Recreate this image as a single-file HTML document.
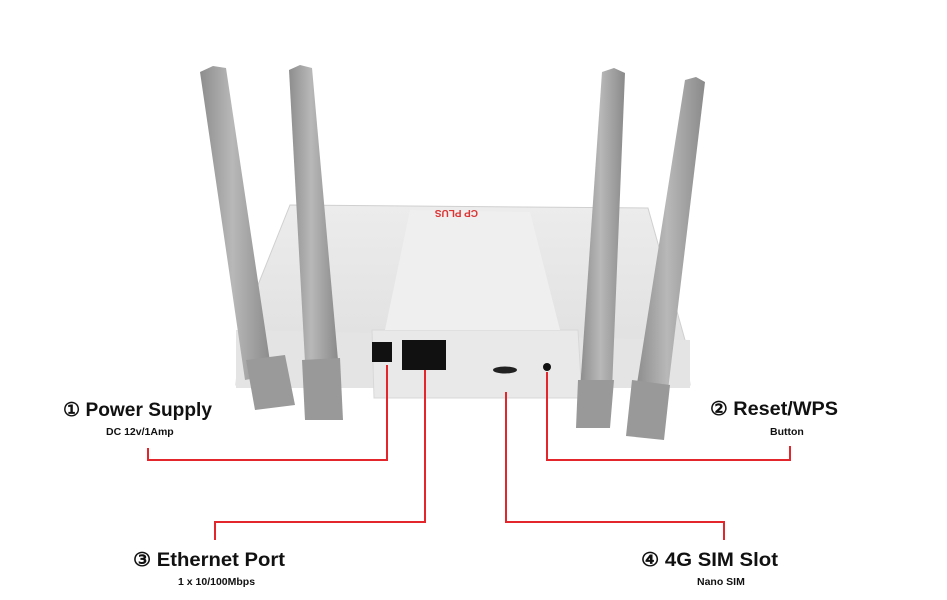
<!DOCTYPE html>
<html><head><meta charset="utf-8"><style>
html,body{margin:0;padding:0;background:#fff;}
svg{display:block}
text{font-family:"Liberation Sans",sans-serif;font-weight:bold;fill:#111}
</style></head><body>
<svg width="947" height="600" viewBox="0 0 947 600">
<defs>
<linearGradient id="ant" x1="0" x2="1"><stop offset="0" stop-color="#8d8d8d"/><stop offset="0.45" stop-color="#b8b8b8"/><stop offset="1" stop-color="#8a8a8a"/></linearGradient>
<linearGradient id="top" x1="0" y1="0" x2="0" y2="1"><stop offset="0" stop-color="#ececec"/><stop offset="1" stop-color="#dedede"/></linearGradient>
</defs>
<polygon points="290,205 648,208 685,340 690,385 236,385 240,330" fill="url(#top)" stroke="#d0d0d0"/>
<polygon points="236,330 690,340 690,388 236,388" fill="#e4e4e4"/>
<polygon points="372,330 578,330 582,398 374,398" fill="#e9e9e9" stroke="#d8d8d8"/>
<polygon points="410,210 530,212 560,330 385,330" fill="#efefef"/>
<text x="478" y="218" font-size="10" style="fill:#d33" transform="rotate(180 478 214)">CP PLUS</text>
<rect x="372" y="342" width="20" height="20" fill="#111"/>
<rect x="402" y="340" width="44" height="30" fill="#111"/>
<ellipse cx="505" cy="370" rx="12" ry="3.5" fill="#222"/>
<circle cx="547" cy="367" r="4" fill="#111"/>
<polygon points="200,72 213,66 226,68 272,375 245,380" fill="url(#ant)"/>
<polygon points="246,360 285,355 295,405 255,410" fill="#9a9a9a"/>
<polygon points="289,70 300,65 312,68 338,360 305,362" fill="url(#ant)"/>
<polygon points="302,360 340,358 343,420 305,420" fill="#999"/>
<polygon points="602,72 614,68 625,73 612,390 580,390" fill="url(#ant)"/>
<polygon points="578,380 614,380 610,428 576,428" fill="#999"/>
<polygon points="685,80 696,77 705,82 668,390 636,390" fill="url(#ant)"/>
<polygon points="632,380 670,385 664,440 626,436" fill="#999"/>
<g fill="none" stroke="#e3262b" stroke-width="2">
<polyline points="387,365 387,460 148,460 148,448"/>
<polyline points="425,370 425,522 215,522 215,540"/>
<polyline points="506,392 506,522 724,522 724,540"/>
<polyline points="547,372 547,460 790,460 790,446"/>
</g>
<text x="63" y="416" font-size="19" textLength="149" lengthAdjust="spacingAndGlyphs">① Power Supply</text>
<text x="106" y="435" font-size="10.5">DC 12v/1Amp</text>
<text x="710" y="415" font-size="19" textLength="128" lengthAdjust="spacingAndGlyphs">② Reset/WPS</text>
<text x="770" y="435" font-size="10.5">Button</text>
<text x="133" y="566" font-size="19" textLength="152" lengthAdjust="spacingAndGlyphs">③ Ethernet Port</text>
<text x="178" y="585" font-size="10.5">1 x 10/100Mbps</text>
<text x="641" y="566" font-size="19" textLength="137" lengthAdjust="spacingAndGlyphs">④ 4G SIM Slot</text>
<text x="697" y="585" font-size="10.5">Nano SIM</text>
</svg>
</body></html>
